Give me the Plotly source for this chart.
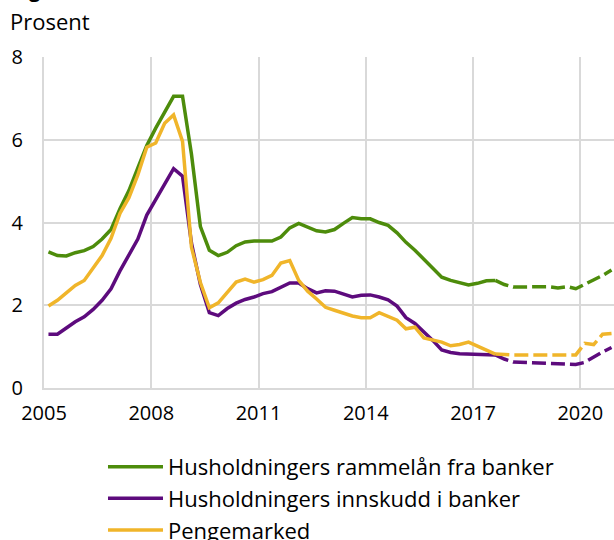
import plotly.graph_objects as go

# quarterly observations, 2005Q1 - 2020Q4 (plotted at mid-quarter)
quarters = [2005.125 + 0.25 * i for i in range(64)]

# Husholdningers rammelån fra banker
rammelan = [3.29, 3.20, 3.19, 3.27, 3.32, 3.42, 3.60, 3.83,
            4.33, 4.77, 5.32, 5.86, 6.28, 6.68, 7.05, 7.05,
            5.65, 3.90, 3.33, 3.20, 3.28, 3.44, 3.53, 3.55,
            3.55, 3.55, 3.65, 3.87, 3.98, 3.90, 3.80, 3.77,
            3.83, 3.98, 4.12, 4.09, 4.09, 4.00, 3.93, 3.75,
            3.52, 3.33, 3.12, 2.90, 2.68, 2.60, 2.55, 2.49,
            2.53, 2.59, 2.60, 2.50, 2.44, 2.44, 2.44, 2.44,
            2.45, 2.42, 2.45, 2.40, 2.50, 2.62, 2.72, 2.85]

# Husholdningers innskudd i banker
innskudd = [1.30, 1.30, 1.45, 1.60, 1.72, 1.90, 2.12, 2.40,
            2.83, 3.20, 3.60, 4.18, 4.55, 4.90, 5.30, 5.12,
            3.50, 2.50, 1.82, 1.75, 1.92, 2.05, 2.14, 2.20,
            2.28, 2.33, 2.44, 2.54, 2.54, 2.40, 2.30, 2.35,
            2.34, 2.26, 2.20, 2.24, 2.25, 2.20, 2.13, 1.98,
            1.70, 1.56, 1.36, 1.15, 0.92, 0.86, 0.83, 0.82,
            0.82, 0.82, 0.80, 0.70, 0.63, 0.62, 0.62, 0.61,
            0.58, 0.57, 0.57, 0.57, 0.62, 0.75, 0.87, 0.98]

# Pengemarked
pengemarked = [1.98, 2.12, 2.30, 2.48, 2.60, 2.90, 3.20, 3.62,
               4.22, 4.60, 5.15, 5.82, 5.92, 6.40, 6.60, 5.96,
               3.40, 2.55, 1.94, 2.06, 2.30, 2.56, 2.63, 2.56,
               2.62, 2.72, 3.02, 3.08, 2.60, 2.34, 2.15, 1.95,
               1.88, 1.80, 1.74, 1.70, 1.70, 1.82, 1.72, 1.64,
               1.43, 1.47, 1.21, 1.17, 1.11, 1.02, 1.05, 1.11,
               1.02, 0.93, 0.82, 0.80, 0.80, 0.80, 0.80, 0.80,
               0.80, 0.80, 0.80, 0.80, 1.08, 1.05, 1.30, 1.32]

# last actual observation, projections after this
split = 50

series = [
    ("Husholdningers rammelån fra banker", rammelan, "#4d8c0b"),
    ("Husholdningers innskudd i banker", innskudd, "#5d0b7d"),
    ("Pengemarked", pengemarked, "#f0b52a"),
]

fig = go.Figure()
for name, vals, col in series:
    fig.add_trace(go.Scatter(x=quarters[:split + 1], y=vals[:split + 1], name=name, legendgroup=name,
                             mode="lines", line=dict(color=col, width=3.5)))
    fig.add_trace(go.Scatter(x=quarters[split:], y=vals[split:], name=name, legendgroup=name, showlegend=False,
                             mode="lines", line=dict(color=col, width=3.5, dash="14px,5px")))

grid = "#d9d9d9"
fig.update_xaxes(range=[2005, 2020.944], tick0=2005, dtick=3, showgrid=True, gridcolor=grid, gridwidth=2,
                 showline=True, linecolor=grid, linewidth=2, zeroline=False, ticks="",
                 ticklabelstandoff=6, automargin=False)
fig.update_yaxes(range=[0, 8], dtick=2, showgrid=True, gridcolor=grid, gridwidth=2,
                 showline=True, linecolor=grid, linewidth=2, zeroline=False, ticks="",
                 ticklabelstandoff=15, automargin=False)

fig.add_annotation(text="Prosent", xref="paper", yref="paper", x=0, y=1, xanchor="left", yanchor="bottom",
                   xshift=-36, yshift=19, showarrow=False, font=dict(size=22))
fig.add_annotation(text="<b>Figur</b>", xref="paper", yref="paper", x=0, y=1, xanchor="left", yanchor="bottom",
                   xshift=-34, yshift=52, showarrow=False, font=dict(size=20))

fig.update_layout(
    width=614, height=540,
    margin=dict(l=44, r=0, t=57, b=152, autoexpand=False),
    plot_bgcolor="white", paper_bgcolor="white",
    font=dict(family="Open Sans", size=20, color="black"),
    showlegend=True,
    legend=dict(x=0.1035, y=-0.175, xanchor="left", yanchor="top", itemwidth=55, tracegroupgap=0,
                bgcolor="rgba(0,0,0,0)", font=dict(size=22)),
)

# page body has a default 8px margin; drop it so the figure sits at the window corner
fig.write_html("out.html", config={"displayModeBar": False},
               post_script="document.body.style.margin='0';")
